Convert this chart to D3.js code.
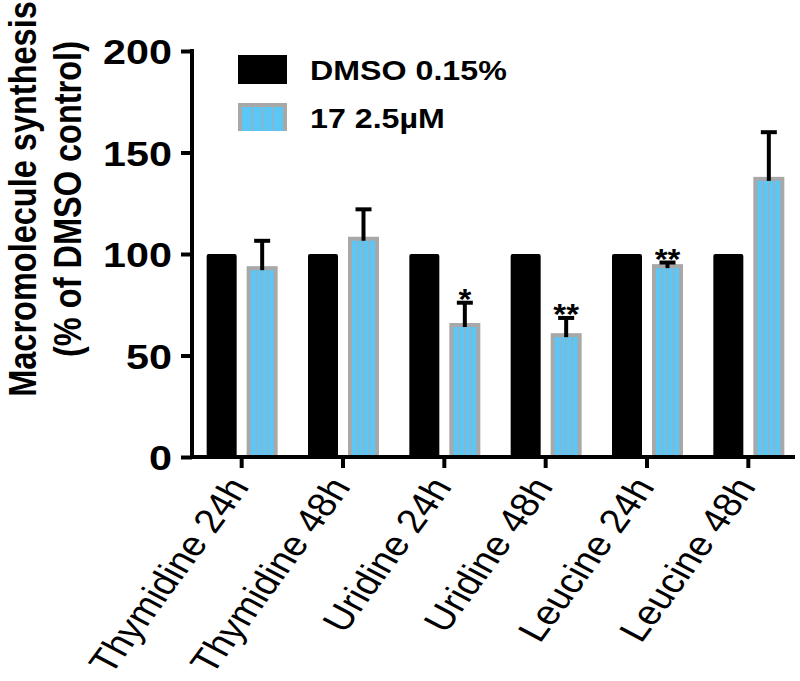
<!DOCTYPE html>
<html>
<head>
<meta charset="utf-8">
<script src="https://cdn.jsdelivr.net/npm/d3@7/dist/d3.min.js"></script>
<style>
  html, body { margin: 0; padding: 0; background: #fff; }
  svg { display: block; font-family: "Liberation Sans", Arial, sans-serif; }
</style>
</head>
<body>
<svg id="chart" width="800" height="681"></svg>
<script>
const categories = ["Thymidine 24h", "Thymidine 48h", "Uridine 24h", "Uridine 48h", "Leucine 24h", "Leucine 48h"];
const seriesNames = ["DMSO 0.15%", "17 2.5\u00B5M"];
const dmsoValues = [100, 100, 100, 100, 100, 100];
const cmpdValues = [94, 108.5, 66, 61, 95, 138];
const cmpdErrors = [12.5, 13.5, 10, 7.5, 0.8, 22];
const significance = ["", "", "*", "**", "**", ""];
const yTicks = [0, 50, 100, 150, 200];

const BLUE = "#5cc6f4";
const GRAY = "#a8a8a8";
const REG = "'Liberation Sans', Arial, sans-serif";
const SX = 1.18; // horizontal stretch of the figure's lettering

const svg = d3.select("#chart");

const y = d3.scaleLinear().domain([0, 200]).range([457, 51]);
const x0 = d3.scaleBand().domain(categories).range([191, 799]).padding(0);
const x1 = d3.scaleBand().domain(["dmso", "cmpd"]).range([-35, 35]).paddingInner(0.25).paddingOuter(0);

const axisX = 192;

function stripedBar(g, xl, w, ytop, ybot, nStripes) {
  g.append("rect").attr("x", xl).attr("y", ytop).attr("width", w).attr("height", ybot - ytop).attr("fill", GRAY);
  const inset = 4;
  const ix = xl + inset, iw = w - 2 * inset, iy = ytop + inset;
  if (ybot - iy > 0) {
    g.append("rect").attr("x", ix).attr("y", iy).attr("width", iw).attr("height", ybot - iy).attr("fill", BLUE);
    for (let k = 1; k < nStripes; k++) {
      const lx = ix + iw * k / nStripes;
      g.append("line").attr("x1", lx).attr("x2", lx).attr("y1", iy).attr("y2", ybot)
        .attr("stroke", "#8fb3c8").attr("stroke-width", 1.6);
    }
  }
}

const groups = svg.append("g").selectAll("g").data(categories).join("g")
  .attr("transform", d => `translate(${x0(d) + x0.bandwidth() / 2},0)`);

groups.each(function(d, i) {
  const g = d3.select(this);
  g.append("rect")
    .attr("x", x1("dmso")).attr("y", y(dmsoValues[i]))
    .attr("width", x1.bandwidth()).attr("height", y(0) - y(dmsoValues[i]))
    .attr("rx", 2).attr("fill", "#000");
  const bx = x1("cmpd"), bw = x1.bandwidth() + 1;
  stripedBar(g, bx, bw, y(cmpdValues[i]), y(0), 4);
  const cx = bx + bw / 2;
  const top = y(cmpdValues[i] + cmpdErrors[i]);
  g.append("line").attr("x1", cx).attr("x2", cx).attr("y1", y(cmpdValues[i]) + 4).attr("y2", top)
    .attr("stroke", "#000").attr("stroke-width", 4);
  g.append("line").attr("x1", cx - 8).attr("x2", cx + 8).attr("y1", top).attr("y2", top)
    .attr("stroke", "#000").attr("stroke-width", 4);
  if (significance[i]) {
    g.append("text").attr("transform", `translate(${cx},${top + 6}) scale(1.1,1)`)
      .attr("text-anchor", "middle").attr("font-size", 30).attr("font-weight", "bold").attr("font-family", REG)
      .text(significance[i]);
  }
});

// y axis
const yAxisG = svg.append("g").attr("transform", `translate(${axisX},0)`)
  .call(d3.axisLeft(y).tickValues(yTicks).tickSize(11).tickPadding(0).tickFormat(d3.format("d")));
yAxisG.select(".domain").attr("stroke-width", 4).attr("d", `M0,${y(200) - 2}V${y(0) + 2}`);
yAxisG.selectAll(".tick line").attr("stroke-width", 4);
yAxisG.selectAll(".tick text")
  .attr("x", null).attr("dy", null)
  .attr("transform", `translate(-20,12.5) scale(${SX},1)`)
  .attr("font-size", 35).attr("font-weight", "bold")
  .attr("font-family", REG).attr("fill", "#000");

// x axis
const xAxisG = svg.append("g").attr("transform", `translate(0,${y(0)})`)
  .call(d3.axisBottom(x0).tickSize(11).tickSizeOuter(0));
xAxisG.select(".domain").attr("stroke-width", 4).attr("d", `M${axisX - 2},0H795`);
xAxisG.selectAll(".tick line").attr("stroke-width", 4);
xAxisG.selectAll(".tick text")
  .attr("x", 0).attr("y", 0).attr("dy", null)
  .attr("font-size", 34).attr("font-weight", "normal").attr("fill", "#000")
  .attr("font-family", REG)
  .attr("text-anchor", "end")
  .attr("transform", `translate(8.5,30) scale(${SX},1) rotate(-58)`);

// y title
const yTitle = svg.append("g").attr("font-weight", "bold").attr("font-size", 32.5)
  .attr("font-family", REG).attr("text-anchor", "middle");
yTitle.append("text").attr("transform", `translate(36,199) scale(1.22,1) rotate(-90)`).text("Macromolecule synthesis");
yTitle.append("text").attr("transform", `translate(81,199) scale(1.22,1) rotate(-90)`).text("(% of DMSO control)");

// legend
const leg = svg.append("g");
leg.append("rect").attr("x", 238).attr("y", 55).attr("width", 49).attr("height", 29).attr("fill", "#000");
stripedBar(leg, 238, 49, 103, 131, 4);
leg.append("text").attr("transform", `translate(310,79.5) scale(1.13,1)`).attr("font-size", 28.5).attr("font-weight", "bold")
  .attr("font-family", REG).text(seriesNames[0]);
leg.append("text").attr("transform", `translate(310,127.5) scale(1.13,1)`).attr("font-size", 28.5).attr("font-weight", "bold")
  .attr("font-family", REG).text(seriesNames[1]);
</script>
</body>
</html>
